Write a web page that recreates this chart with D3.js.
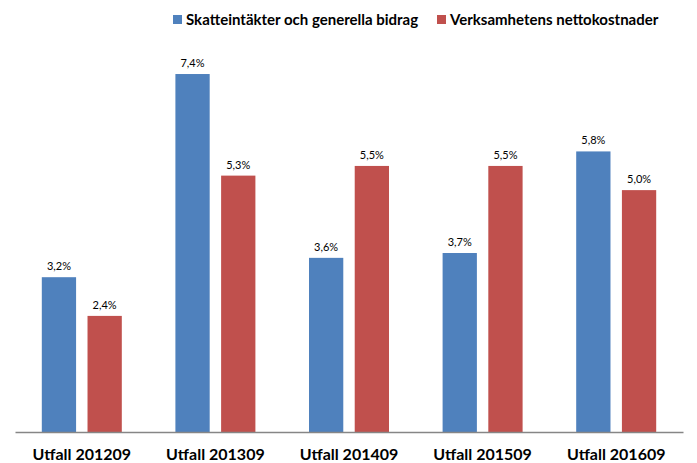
<!DOCTYPE html>
<html>
<head>
<meta charset="utf-8">
<script src="https://cdn.jsdelivr.net/npm/d3@7"></script>
<style>
  body { margin: 0; background: #fff; }
  svg { display: block; }
  text { font-family: Lato, "Open Sans", sans-serif; }
</style>
</head>
<body>
<svg width="697" height="463"></svg>
<script>
var categories = ["Utfall 201209", "Utfall 201309", "Utfall 201409", "Utfall 201509", "Utfall 201609"];
var seriesNames = ["Skatteintäkter och generella bidrag", "Verksamhetens nettokostnader"];
var skatter = [3.2, 7.4, 3.6, 3.7, 5.8];
var kostnader = [2.4, 5.3, 5.5, 5.5, 5.0];
var colors = ["#4F81BD", "#C0504D"];

var svg = d3.select("svg"),
    left = 15, right = 683, baseY = 432;

var x = d3.scaleBand().domain(categories).range([left, right]);
var y = d3.scaleLinear().domain([0, 8]).range([baseY, baseY - 387]);
var sub = d3.scaleBand().domain([0, 1]).range([x.bandwidth() / 2 - 40, x.bandwidth() / 2 + 40]).paddingInner(0.25);

var rows = categories.map(function (c, i) {
  return { cat: c, vals: [skatter[i], kostnader[i]] };
});

var fmt = function (v) { return d3.format(".1f")(v).replace(".", ",") + "%"; };

var g = svg.selectAll("g.cat").data(rows).enter().append("g")
    .attr("class", "cat")
    .attr("transform", function (d) { return "translate(" + x(d.cat) + ",0)"; });

g.selectAll("rect").data(function (d) { return d.vals; }).enter().append("rect")
    .attr("x", function (d, i) { return sub(i); })
    .attr("width", sub.bandwidth())
    .attr("y", function (d) { return y(d); })
    .attr("height", function (d) { return baseY - y(d); })
    .attr("fill", function (d, i) { return colors[i]; });

g.selectAll("text.val").data(function (d) { return d.vals; }).enter().append("text")
    .attr("class", "val")
    .attr("x", function (d, i) { return sub(i) + sub.bandwidth() / 2; })
    .attr("y", function (d) { return y(d) - 7; })
    .attr("text-anchor", "middle")
    .attr("font-size", 11)
    .attr("fill", "#000")
    .text(fmt);

// x axis
var axis = svg.append("g").attr("transform", "translate(0," + baseY + ")")
    .call(d3.axisBottom(x).tickSize(0));
axis.select(".domain").attr("stroke", "#868686").attr("stroke-width", 1.3);
axis.selectAll("text")
    .attr("y", 28).attr("dy", null)
    .attr("font-family", "Lato, 'Open Sans', sans-serif")
    .attr("font-size", 16).attr("font-weight", "bold").attr("fill", "#000");

// legend
var legendX = [173, 437];
var leg = svg.selectAll("g.leg").data(seriesNames).enter().append("g")
    .attr("class", "leg")
    .attr("transform", function (d, i) { return "translate(" + legendX[i] + ",15)"; });
leg.append("rect").attr("width", 9).attr("height", 9)
    .attr("fill", function (d, i) { return colors[i]; });
leg.append("text").attr("x", 13).attr("y", 10)
    .attr("font-size", 15).attr("font-weight", "bold").attr("fill", "#000")
    .text(function (d) { return d; });
</script>
</body>
</html>
